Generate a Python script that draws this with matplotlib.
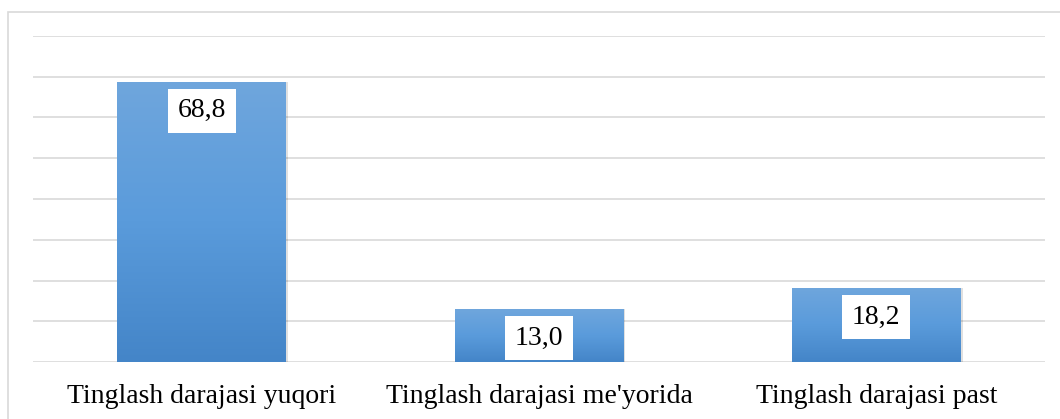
import matplotlib.pyplot as plt
import numpy as np
from matplotlib.colors import LinearSegmentedColormap
from matplotlib.patches import Rectangle

categories = ['Tinglash darajasi yuqori', "Tinglash darajasi me'yorida", 'Tinglash darajasi past']
values = [68.8, 13.0, 18.2]
value_labels = ['68,8', '13,0', '18,2']

plt.rcParams['font.family'] = ['Liberation Serif', 'DejaVu Serif']

fig = plt.figure(figsize=(10.6, 4.19), dpi=100)
# outer chart border
fig.patches.append(Rectangle((8 / 1060, -0.1), 1.2, (419 - 12) / 419 + 0.1,
                             transform=fig.transFigure, fill=False,
                             edgecolor='#d9d9d9', linewidth=1.2))

ax = fig.add_axes([33 / 1060, (419 - 362) / 419, (1045 - 33) / 1060, (362 - 36) / 419])
ax.set_xlim(-0.5, 2.5)
ax.set_ylim(0, 80)
ax.set_yticks(np.arange(0, 81, 10))
ax.yaxis.grid(True, color='#d9d9d9', linewidth=1.2)
ax.set_axisbelow(True)
for s in ax.spines.values():
    s.set_visible(False)
ax.tick_params(left=False, bottom=False, labelleft=False)
ax.set_xticks(range(3))
ax.set_xticklabels(categories, fontsize=20, color='#000000')
ax.tick_params(axis='x', pad=12)

cmap = LinearSegmentedColormap.from_list('bar', ['#4485c8', '#5a9bdb', '#6fa6dd'])
grad = np.linspace(0, 1, 256).reshape(-1, 1)
width = 0.5
bars = ax.bar(range(3), values, width=width, color='none', edgecolor='none', zorder=3)
for b, v in zip(bars, values):
    x0 = b.get_x()
    # soft shadow
    ax.add_patch(Rectangle((x0 + 0.006, 0), width, v, facecolor='#000000', alpha=0.12,
                           edgecolor='none', zorder=2.5))
    im = ax.imshow(grad, cmap=cmap, aspect='auto', origin='lower',
                   extent=[x0, x0 + width, 0, v], zorder=3)
    im.set_clip_path(b)

for i, (v, lab) in enumerate(zip(values, value_labels)):
    ax.annotate(lab, (i, v), xytext=(0, -21), textcoords='offset points',
                ha='center', va='center', fontsize=20, zorder=5,
                bbox=dict(boxstyle='square,pad=0.35', facecolor='white', edgecolor='none'))

fig.savefig('out.png', dpi=100)
